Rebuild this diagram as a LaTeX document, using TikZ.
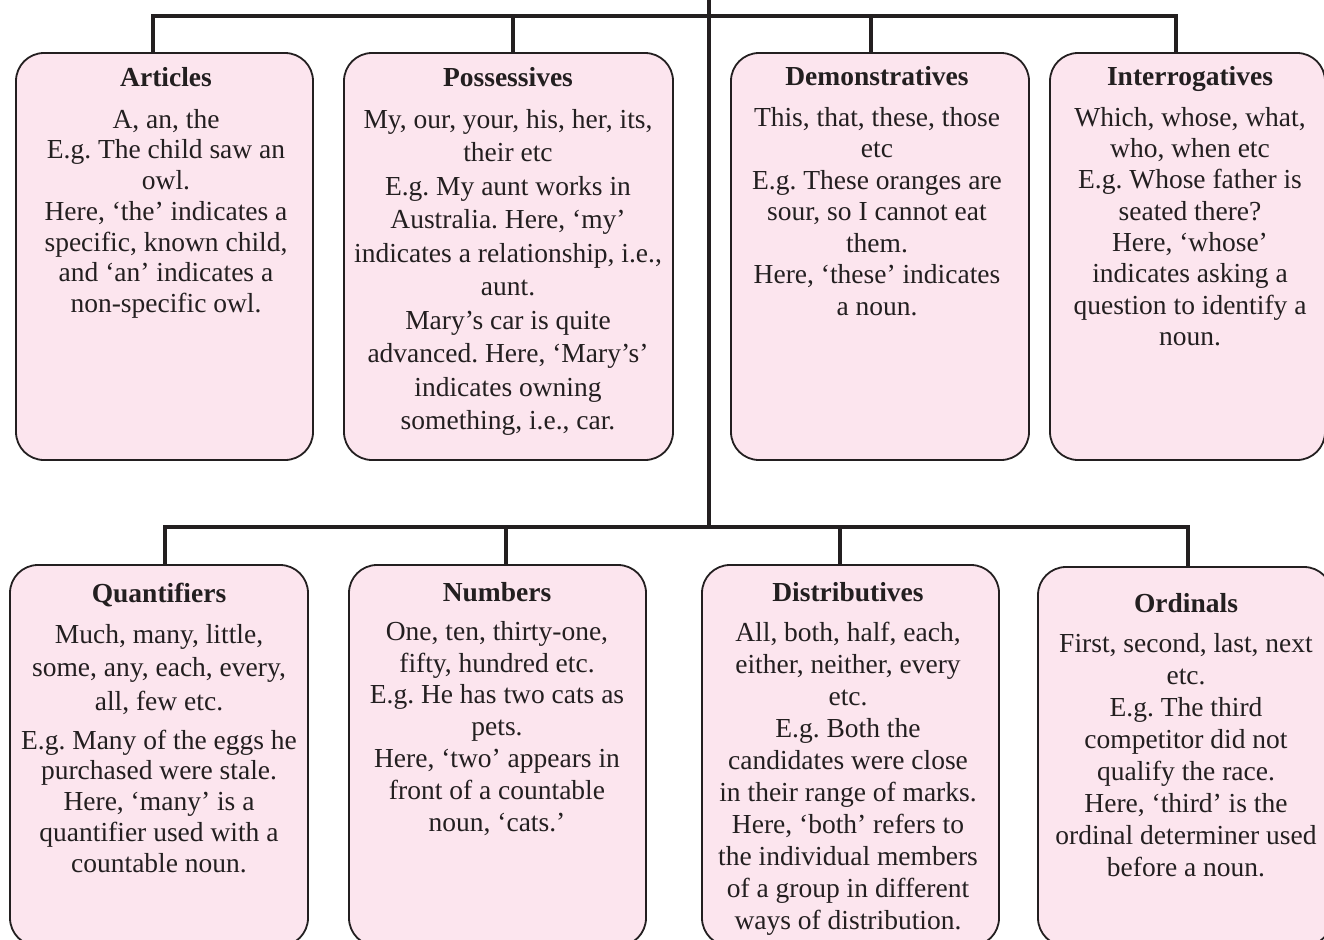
\documentclass[tikz,border=0pt]{standalone}
\usepackage{fontspec}
\setmainfont{Liberation Serif}
\definecolor{boxfill}{RGB}{252,229,238}
\definecolor{ink}{RGB}{35,31,32}
\frenchspacing
\begin{document}
\begin{tikzpicture}[x=1pt,y=-1pt,
  box/.style={draw=ink, line width=1.8pt, fill=boxfill, rounded corners=28pt, inner sep=0pt},
  conn/.style={draw=ink, line width=4.5pt, line join=miter},
  ttl/.style={font=\fontsize{27.5}{31}\selectfont\bfseries, text=ink, anchor=base, inner sep=0pt},
  body/.style={font=\fontsize{27.5}{#1}\selectfont\frenchspacing, text=ink, align=center, anchor=north, inner sep=0pt},
]
\clip (0,0) rectangle (1324,939);
% boxes
\node[box, minimum width=297pt, minimum height=407pt] (art) at (164.5,256.5) {};
\node[box, minimum width=329pt, minimum height=407pt] (pos) at (508.5,256.5) {};
\node[box, minimum width=298pt, minimum height=407pt] (dem) at (880,256.5) {};
\node[box, minimum width=275pt, minimum height=407pt] (int) at (1187.5,256.5) {};
\node[box, minimum width=298pt, minimum height=381pt] (qua) at (159,755.5) {};
\node[box, minimum width=297pt, minimum height=381pt] (num) at (497.5,755.5) {};
\node[box, minimum width=297pt, minimum height=381pt] (dis) at (850.5,755.5) {};
\node[box, minimum width=294pt, minimum height=379pt] (ord) at (1185,756.5) {};
% connector coordinates
\coordinate (root) at (709,-5);
\coordinate (hub) at (709,527);
\coordinate (ta) at (153,16);
\coordinate (tb) at (513,16);
\coordinate (tc) at (871,16);
\coordinate (td) at (1176,16);
\coordinate (ba) at (165,527);
\coordinate (bb) at (506,527);
\coordinate (bc) at (840,527);
\coordinate (bd) at (1188,527);
% connectors
\draw[conn] (root) -- (hub);
\draw[conn] (art.north -| ta) -- (ta) -- (td) -- (int.north -| td);
\draw[conn] (tb) -- (tb |- pos.north);
\draw[conn] (tc) -- (tc |- dem.north);
\draw[conn] (qua.north -| ba) -- (ba) -- (bd) -- (ord.north -| bd);
\draw[conn] (bb) -- (bb |- num.north);
\draw[conn] (bc) -- (bc |- dis.north);
% titles
\node[ttl] (artT) at (166,86.5) {Articles};
\node[ttl] (posT) at (508,86.5) {Possessives};
\node[ttl] (demT) at (877,86) {Demonstratives};
\node[ttl] (intT) at (1190,86) {Interrogatives};
\node[ttl] (quaT) at (159,602.5) {Quantifiers};
\node[ttl] (numT) at (497,601.5) {Numbers};
\node[ttl] (disT) at (848,601.5) {Distributives};
\node[ttl] (ordT) at (1186,612.5) {Ordinals};
% bodies
\node[body=30.7pt] (artB) at (166,108) {\rule{0pt}{20pt}A, an, the\\E.g. The child saw an\\owl.\\Here, ‘the’ indicates a\\specific, known child,\\and ‘an’ indicates a\\non-specific owl.};
\node[body=33.5pt] (posB) at (508,108) {\rule{0pt}{20pt}My, our, your, his, her, its,\\their etc\\E.g. My aunt works in\\Australia. Here, ‘my’\\indicates a relationship, i.e.,\\aunt.\\Mary’s car is quite\\advanced. Here, ‘Mary’s’\\indicates owning\\something, i.e., car.};
\node[body=31.5pt] (demB) at (877,106) {\rule{0pt}{20pt}This, that, these, those\\etc\\E.g. These oranges are\\sour, so I cannot eat\\them.\\Here, ‘these’ indicates\\a noun.};
\node[body=31.3pt] (intB) at (1190,106) {\rule{0pt}{20pt}Which, whose, what,\\who, when etc\\E.g. Whose father is\\seated there?\\Here, ‘whose’\\indicates asking a\\question to identify a\\noun.};
\node[body=33.5pt] (quaB) at (159,623) {\rule{0pt}{20pt}Much, many, little,\\some, any, each, every,\\all, few etc.\\[5.5pt]E.g. Many of the eggs he\\[-2.75pt]purchased were stale.\\[-2.75pt]Here, ‘many’ is a\\[-2.75pt]quantifier used with a\\[-2.75pt]countable noun.};
\node[body=31.8pt] (numB) at (497,620) {\rule{0pt}{20pt}One, ten, thirty-one,\\fifty, hundred etc.\\E.g. He has two cats as\\pets.\\Here, ‘two’ appears in\\front of a countable\\noun, ‘cats.’};
\node[body=32pt] (disB) at (848,621) {\rule{0pt}{20pt}All, both, half, each,\\either, neither, every\\etc.\\E.g. Both the\\candidates were close\\in their range of marks.\\Here, ‘both’ refers to\\the individual members\\of a group in different\\ways of distribution.};
\node[body=32pt] (ordB) at (1186,632) {\rule{0pt}{20pt}First, second, last, next\\etc.\\E.g. The third\\competitor did not\\qualify the race.\\Here, ‘third’ is the\\ordinal determiner used\\before a noun.};
\end{tikzpicture}
\end{document}
